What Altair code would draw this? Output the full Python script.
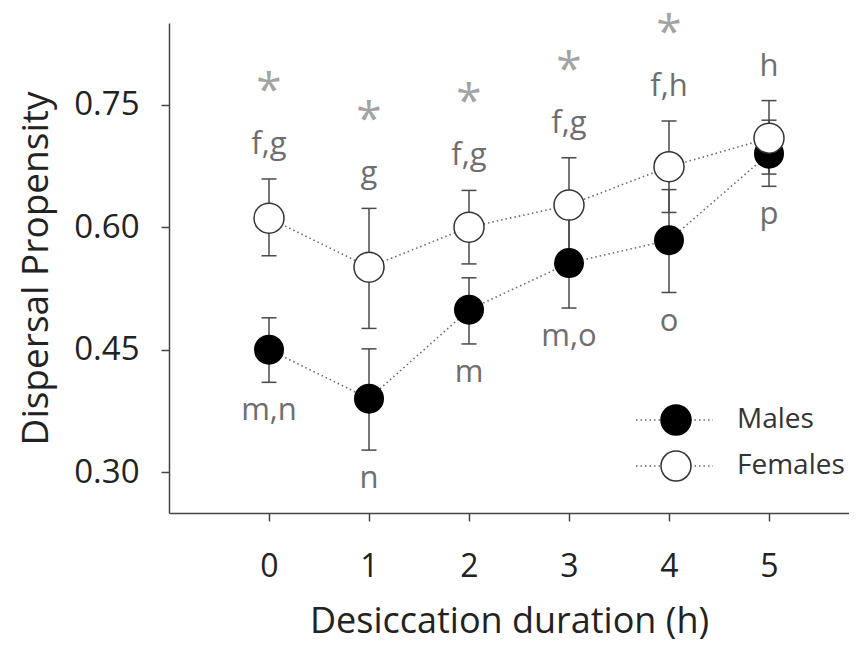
import altair as alt
import pandas as pd

hours = [0, 1, 2, 3, 4, 5]
male_mean = [0.450, 0.390, 0.499, 0.556, 0.584, 0.690]
male_lo = [0.410, 0.327, 0.457, 0.501, 0.520, 0.650]
male_hi = [0.489, 0.451, 0.538, 0.611, 0.646, 0.731]
female_mean = [0.611, 0.551, 0.600, 0.627, 0.674, 0.709]
female_lo = [0.565, 0.476, 0.555, 0.569, 0.618, 0.665]
female_hi = [0.659, 0.623, 0.645, 0.685, 0.730, 0.755]
male_letters = ["m,n", "n", "m", "m,o", "o", "p"]
female_letters = ["f,g", "g", "f,g", "f,g", "f,h", "h"]
stars = ["*", "*", "*", "*", "*", ""]
y_ticks = [0.30, 0.45, 0.60, 0.75]

rows = []
for i, h in enumerate(hours):
    rows.append(dict(h=h, sex="Males", mean=male_mean[i], lo=male_lo[i], hi=male_hi[i],
                     letter=male_letters[i], star=""))
    rows.append(dict(h=h, sex="Females", mean=female_mean[i], lo=female_lo[i], hi=female_hi[i],
                     letter=female_letters[i], star=stars[i]))
df = pd.DataFrame(rows)

FONT = "Open Sans"
GRAY_TXT = "#6e6e6e"
STAR = "#a3a3a3"
BAR = "#4a4a4a"

xaxis = alt.Axis(values=hours, title="Desiccation duration (h)", grid=False,
                 labelFontSize=32, labelPadding=30, titleFontSize=36, titlePadding=22)
yaxis = alt.Axis(values=y_ticks, format=".2f", title="Dispersal Propensity", grid=False,
                 labelFontSize=33, labelPadding=22, titleFontSize=37, titlePadding=18)
xscale = alt.Scale(domain=[-1, 5.8], nice=False, zero=False)
yscale = alt.Scale(domain=[0.25, 0.85], nice=False, zero=False)


def X(field="h"):
    return alt.X(f"{field}:Q", scale=xscale, axis=xaxis, title="Desiccation duration (h)")


def Y(field):
    return alt.Y(f"{field}:Q", scale=yscale, axis=yaxis, title="Dispersal Propensity")


base = alt.Chart(df)

lines = base.mark_line(strokeDash=[1.5, 3], color="#6a6a6a", strokeWidth=1.6).encode(
    x=X(), y=Y("mean"), detail="sex:N")

bars = base.mark_rule(color=BAR, strokeWidth=1.5).encode(x=X(), y=Y("lo"), y2="hi:Q")

caps_base = base.transform_calculate(c0="datum.h - 0.075", c1="datum.h + 0.075")
cap_lo = caps_base.mark_rule(color=BAR, strokeWidth=1.5).encode(x=X("c0"), x2="c1:Q", y=Y("lo"))
cap_hi = caps_base.mark_rule(color=BAR, strokeWidth=1.5).encode(x=X("c0"), x2="c1:Q", y=Y("hi"))

males = base.transform_filter("datum.sex == 'Males'").mark_point(
    shape="circle", filled=True, size=900, color="black", opacity=1).encode(x=X(), y=Y("mean"))
females = base.transform_filter("datum.sex == 'Females'").mark_point(
    shape="circle", filled=True, size=900, fill="white", stroke="#333333", strokeWidth=1.5,
    opacity=1).encode(x=X(), y=Y("mean"))

f_letters = base.transform_filter("datum.sex == 'Females'").mark_text(
    font=FONT, fontSize=31, color=GRAY_TXT, baseline="alphabetic", dy=-25).encode(
    x=X(), y=Y("hi"), text="letter:N")
m_letters = base.transform_filter("datum.sex == 'Males'").mark_text(
    font=FONT, fontSize=31, color=GRAY_TXT, baseline="alphabetic", dy=38).encode(
    x=X(), y=Y("lo"), text="letter:N")
star_txt = base.transform_filter("datum.sex == 'Females'").mark_text(
    font=FONT, fontSize=46, color=STAR, baseline="alphabetic", dy=-73).encode(
    x=X(), y=Y("hi"), text="star:N")

# manual legend
legend_labels = ["Males", "Females"]
leg = alt.Chart(pd.DataFrame({"label": [0]}))
legend_layers = []
for lab, yy, fill in [(legend_labels[0], 397, "black"), (legend_labels[1], 443, "white")]:
    legend_layers.append(leg.mark_rule(strokeDash=[1.5, 3], color="#6a6a6a", strokeWidth=1.6).encode(
        x=alt.value(467), x2=alt.value(544), y=alt.value(yy)))
    legend_layers.append(leg.mark_point(shape="circle", filled=True, size=900, fill=fill,
                                        stroke="#333333" if fill == "white" else "black",
                                        strokeWidth=1.5, opacity=1).encode(
        x=alt.value(507), y=alt.value(yy)))
    legend_layers.append(leg.mark_text(font=FONT, fontSize=28, color="#333333", align="left",
                                       baseline="middle", text=lab).encode(
        x=alt.value(568), y=alt.value(yy)))

chart = alt.layer(lines, bars, cap_lo, cap_hi, males, females, f_letters, m_letters, star_txt,
                  *legend_layers).properties(
    width=680, height=490,
    padding={"left": 161, "top": 15, "right": 0, "bottom": 130},
    autosize=alt.AutoSizeParams(type="none"),
).configure_view(stroke=None).configure_axis(
    labelFont=FONT, titleFont=FONT, labelColor="#222222", titleColor="#222222",
    titleFontWeight="normal", domainColor="#444444", domainWidth=1.5,
    tickColor="#444444", tickWidth=1.5, tickSize=8,
)

chart.save("out.html", embed_options={"renderer": "svg", "actions": False})
